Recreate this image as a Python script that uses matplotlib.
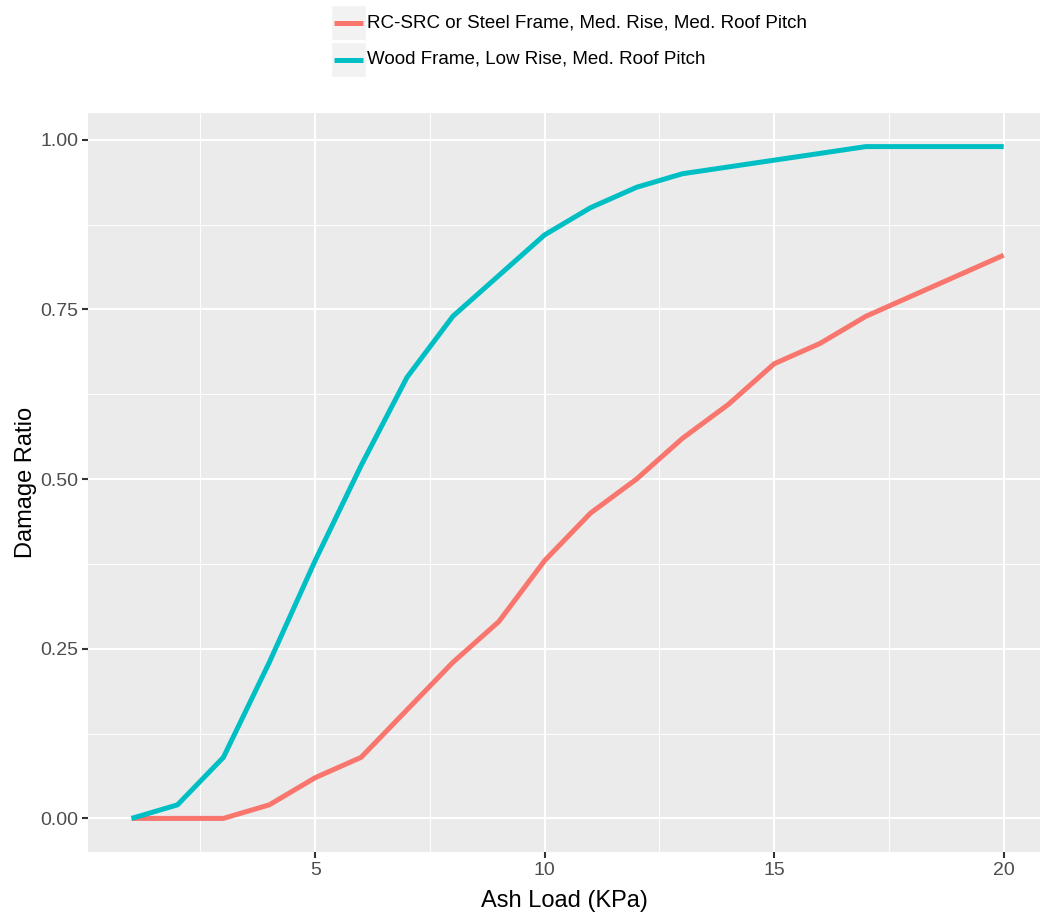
import matplotlib
matplotlib.use('Agg')
import matplotlib.pyplot as plt
from matplotlib.patches import Rectangle
from matplotlib.lines import Line2D
import numpy as np

plt.rcParams['font.family'] = ['Liberation Sans', 'DejaVu Sans']

ash_load = [1, 2, 3, 4, 5, 6, 7, 8, 9, 10, 11, 12, 13, 14, 15, 16, 17, 18, 19, 20]
rc_steel = [0.00, 0.00, 0.00, 0.02, 0.06, 0.09, 0.16, 0.23, 0.29, 0.38,
            0.45, 0.50, 0.56, 0.61, 0.67, 0.70, 0.74, 0.77, 0.80, 0.83]
wood = [0.00, 0.02, 0.09, 0.23, 0.38, 0.52, 0.65, 0.74, 0.80, 0.86,
        0.90, 0.93, 0.95, 0.96, 0.97, 0.98, 0.99, 0.99, 0.99, 0.99]
labels = ['RC-SRC or Steel Frame, Med. Rise, Med. Roof Pitch',
          'Wood Frame, Low Rise, Med. Roof Pitch']
colors = ['#F8766D', '#00BFC4']

W, H = 1040, 915
fig = plt.figure(figsize=(W / 100, H / 100), dpi=100)
ax = fig.add_axes([88 / W, 1 - 852 / H, (W - 88) / W, (852 - 113) / H])
ax.set_facecolor('#EBEBEB')

ax.plot(ash_load, rc_steel, color=colors[0], lw=3.6, solid_capstyle='butt', zorder=3)
ax.plot(ash_load, wood, color=colors[1], lw=3.6, solid_capstyle='butt', zorder=3)

ax.set_xlim(0.05, 0.05 + (W - 88) / 45.9)
ax.set_ylim(-0.0495, 1.0395)
ax.set_xticks([5, 10, 15, 20])
ax.set_yticks([0, 0.25, 0.5, 0.75, 1.0])
ax.set_yticklabels(['0.00', '0.25', '0.50', '0.75', '1.00'])
ax.set_xticks([2.5, 7.5, 12.5, 17.5], minor=True)
ax.set_yticks([0.125, 0.375, 0.625, 0.875], minor=True)
ax.grid(which='major', color='white', lw=1.5)
ax.grid(which='minor', color='white', lw=0.7)
ax.set_axisbelow(True)
for s in ax.spines.values():
    s.set_visible(False)
ax.tick_params(which='major', length=4, width=1.5, color='#333333',
               labelcolor='#4D4D4D', labelsize=14, pad=3)
ax.tick_params(which='minor', length=0)

ax.set_xlabel('Ash Load (KPa)', fontsize=17, color='black', labelpad=8)
ax.set_ylabel('Damage Ratio', fontsize=17, color='black', labelpad=2)

# legend drawn in figure pixels, ggplot style
for i, (lab, col) in enumerate(zip(labels, colors)):
    y0 = 5 + i * 37
    fig.patches.append(Rectangle((331 / W, 1 - (y0 + 35) / H), 35 / W, 35 / H,
                                 transform=fig.transFigure, facecolor='#F2F2F2',
                                 edgecolor='white', lw=1))
    yc = 1 - (y0 + 17.5) / H
    fig.lines.append(Line2D([334 / W, 363 / W], [yc, yc], transform=fig.transFigure,
                            color=col, lw=3.6, solid_capstyle='butt'))
    fig.text(367 / W, yc, lab, fontsize=13.5, va='center', ha='left', color='black')

fig.savefig('out.png', dpi=100)
